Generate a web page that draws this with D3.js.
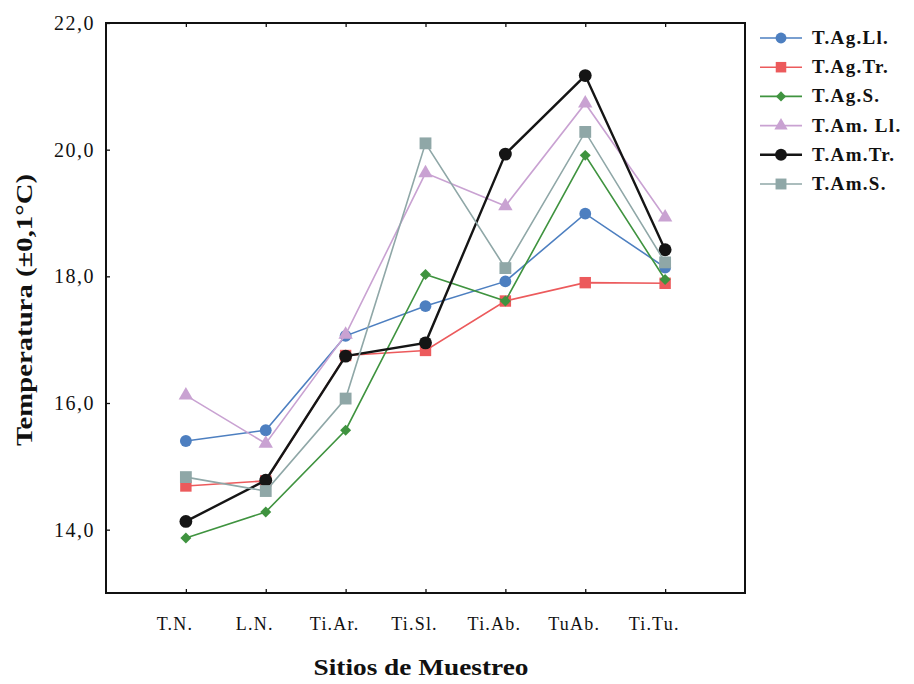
<!DOCTYPE html>
<html>
<head>
<meta charset="utf-8">
<script src="https://cdn.jsdelivr.net/npm/d3@7"></script>
<style>
  body { margin: 0; background: #fff; }
  text { font-family: "Liberation Serif", "DejaVu Serif", serif; fill: #111; }
</style>
</head>
<body>
<div id="chart"></div>
<script>
// categories and tick labels
const sites = ['T.N.', 'L.N.', 'Ti.Ar.', 'Ti.Sl.', 'Ti.Ab.', 'Tu.Ab.', 'Ti.Tu.'];
const siteLabels = ['T.N.', 'L.N.', 'Ti.Ar.', 'Ti.Sl.', 'Ti.Ab.', 'TuAb.', 'Ti.Tu.'];
const yTicks = [14, 16, 18, 20, 22];

// series values (temperature, °C)
const tAgLl = [15.40, 15.57, 17.06, 17.53, 17.92, 18.99, 18.14];
const tAgTr = [14.69, 14.77, 16.75, 16.83, 17.61, 17.90, 17.89];
const tAgS  = [13.87, 14.28, 15.57, 18.03, 17.61, 19.91, 17.95];
const tAmLl = [16.12, 15.36, 17.08, 19.63, 19.11, 20.73, 18.93];
const tAmTr = [14.13, 14.78, 16.74, 16.95, 19.93, 21.17, 18.42];
const tAmS  = [14.83, 14.61, 16.07, 20.10, 18.13, 20.28, 18.22];

// rot = 45 turns a square into the small diamond used for T.Ag.S.
const series = [
  {name: 'T.Ag.Ll.',  values: tAgLl, color: '#4d7fc0', symbol: d3.symbolCircle,   size: 110, width: 1.6, rot: 0},
  {name: 'T.Ag.Tr.',  values: tAgTr, color: '#ec5a5c', symbol: d3.symbolSquare,   size: 130, width: 1.6, rot: 0},
  {name: 'T.Ag.S.',   values: tAgS,  color: '#3f933f', symbol: d3.symbolSquare,   size: 60,  width: 1.6, rot: 45},
  {name: 'T.Am. Ll.', values: tAmLl, color: '#c9a2d2', symbol: d3.symbolTriangle, size: 90,  width: 1.6, rot: 0},
  {name: 'T.Am.Tr.',  values: tAmTr, color: '#151515', symbol: d3.symbolCircle,   size: 130, width: 2.4, rot: 0},
  {name: 'T.Am.S.',   values: tAmS,  color: '#8fa7a7', symbol: d3.symbolSquare,   size: 140, width: 1.6, rot: 0}
];

const width = 914, height = 684;
const plotLeft = 106, plotTop = 23, plotRight = 745, plotBottom = 593;

const svg = d3.select('#chart').append('svg')
  .attr('width', width)
  .attr('height', height);

const x = d3.scalePoint()
  .domain(sites)
  .range([plotLeft, plotRight])
  .padding(1);

const y = d3.scaleLinear()
  .domain([13, 22])
  .range([plotBottom, plotTop]);

// frame
svg.append('rect')
  .attr('x', plotLeft).attr('y', plotTop)
  .attr('width', plotRight - plotLeft).attr('height', plotBottom - plotTop)
  .attr('fill', 'none')
  .attr('stroke', '#111')
  .attr('stroke-width', 2);

// y axis, ticks pointing inward
const yAxis = svg.append('g')
  .attr('transform', `translate(${plotLeft},0)`)
  .call(d3.axisRight(y).tickValues(yTicks).tickSize(4).tickFormat(''));
yAxis.select('.domain').remove();
yAxis.selectAll('line').attr('stroke', '#111').attr('stroke-width', 1.3);

svg.append('g').selectAll('text')
  .data(yTicks)
  .enter().append('text')
    .attr('x', 95)
    .attr('y', d => y(d) + 7)
    .attr('text-anchor', 'end')
    .style('font-size', '20px')
    .style('letter-spacing', '1.5px')
    .text(d => d3.format('.1f')(d).replace('.', ','));

// x axis, ticks pointing inward
const xAxis = svg.append('g')
  .attr('transform', `translate(0,${plotBottom})`)
  .call(d3.axisTop(x).tickSize(4).tickFormat(''));
xAxis.select('.domain').remove();
xAxis.selectAll('line').attr('stroke', '#111').attr('stroke-width', 1.3);

const xTop = svg.append('g')
  .attr('transform', `translate(0,${plotTop})`)
  .call(d3.axisBottom(x).tickSize(4).tickFormat(''));
xTop.select('.domain').remove();
xTop.selectAll('line').attr('stroke', '#111').attr('stroke-width', 1.3);

svg.append('g').selectAll('text')
  .data(sites)
  .enter().append('text')
    .attr('x', d => x(d) - 11)
    .attr('y', 630)
    .attr('text-anchor', 'middle')
    .style('font-size', '18px')
    .style('letter-spacing', '1.2px')
    .text((d, i) => siteLabels[i]);

// axis titles
svg.append('text')
  .attr('x', 421)
  .attr('y', 675)
  .attr('text-anchor', 'middle')
  .attr('textLength', 215)
  .attr('lengthAdjust', 'spacingAndGlyphs')
  .style('font-size', '23px')
  .style('font-weight', 'bold')
  .text('Sitios de Muestreo');

svg.append('text')
  .attr('transform', 'translate(32,310) rotate(-90)')
  .attr('text-anchor', 'middle')
  .attr('textLength', 272)
  .attr('lengthAdjust', 'spacingAndGlyphs')
  .style('font-size', '23px')
  .style('font-weight', 'bold')
  .text('Temperatura (±0,1°C)');

// lines and markers
const line = d3.line()
  .x((d, i) => x(sites[i]))
  .y(d => y(d));

series.forEach(s => {
  const g = svg.append('g');
  g.append('path')
    .datum(s.values)
    .attr('d', line)
    .attr('fill', 'none')
    .attr('stroke', s.color)
    .attr('stroke-width', s.width);
  g.selectAll('path.mark')
    .data(s.values)
    .enter().append('path')
      .attr('class', 'mark')
      .attr('d', d3.symbol().type(s.symbol).size(s.size))
      .attr('transform', (d, i) => `translate(${x(sites[i])},${y(d)}) rotate(${s.rot})`)
      .attr('fill', s.color);
});

// legend
const legend = svg.append('g');
series.forEach((s, i) => {
  const ly = 38 + i * 29.2;
  legend.append('line')
    .attr('x1', 760).attr('x2', 802)
    .attr('y1', ly).attr('y2', ly)
    .attr('stroke', s.color)
    .attr('stroke-width', s.width);
  legend.append('path')
    .attr('d', d3.symbol().type(s.symbol).size(s.size * 0.85))
    .attr('transform', `translate(781,${ly}) rotate(${s.rot})`)
    .attr('fill', s.color);
  legend.append('text')
    .attr('x', 812)
    .attr('y', ly + 6)
    .style('font-size', '19px')
    .style('font-weight', 'bold')
    .style('letter-spacing', '1.3px')
    .text(s.name);
});
</script>
</body>
</html>
